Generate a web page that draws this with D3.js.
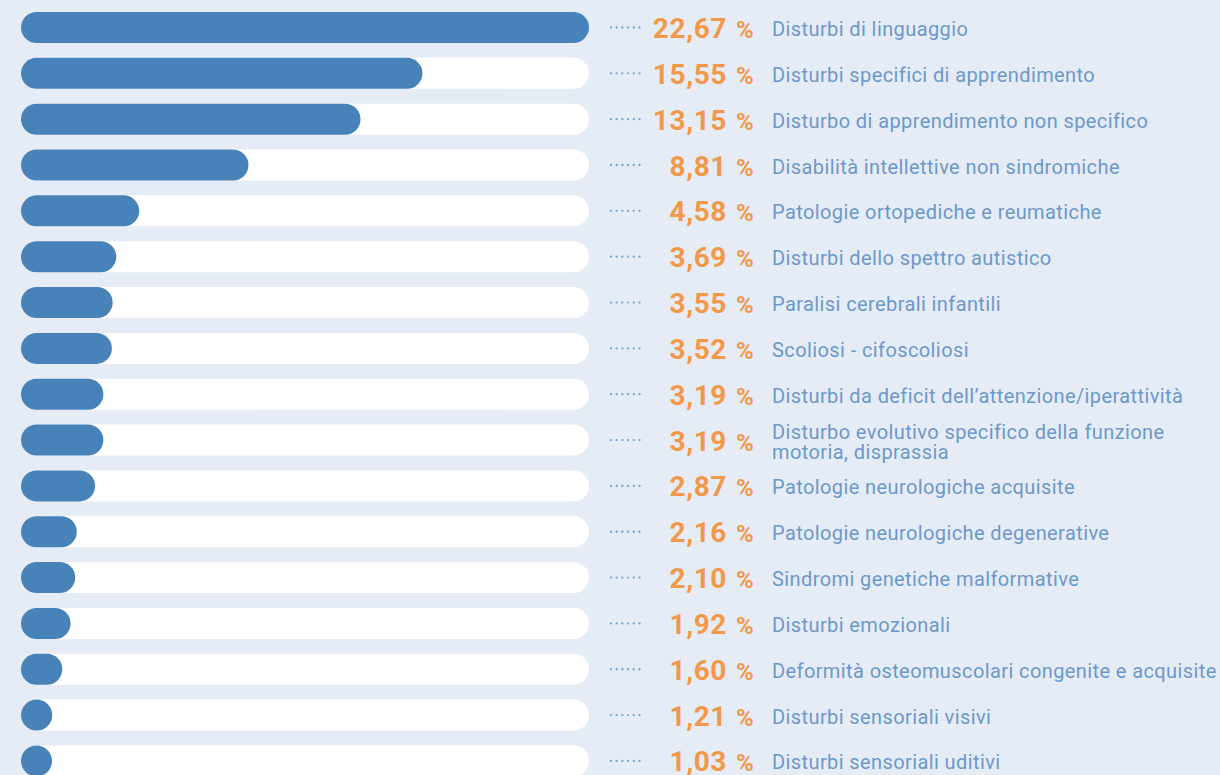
<!DOCTYPE html>
<html>
<head>
<meta charset="utf-8">
<script src="https://cdn.jsdelivr.net/npm/d3@7"></script>
<style>
  html, body { margin: 0; padding: 0; background: #e6ecf6; }
  svg { display: block; }
</style>
</head>
<body>
<svg id="chart" width="1220" height="775"></svg>
<script>
const categories = [
  "Disturbi di linguaggio",
  "Disturbi specifici di apprendimento",
  "Disturbo di apprendimento non specifico",
  "Disabilità intellettive non sindromiche",
  "Patologie ortopediche e reumatiche",
  "Disturbi dello spettro autistico",
  "Paralisi cerebrali infantili",
  "Scoliosi - cifoscoliosi",
  "Disturbi da deficit dell’attenzione/iperattività",
  "Disturbo evolutivo specifico della funzione\nmotoria, disprassia",
  "Patologie neurologiche acquisite",
  "Patologie neurologiche degenerative",
  "Sindromi genetiche malformative",
  "Disturbi emozionali",
  "Deformità osteomuscolari congenite e acquisite",
  "Disturbi sensoriali visivi",
  "Disturbi sensoriali uditivi"
];
const values = [22.67, 15.55, 13.15, 8.81, 4.58, 3.69, 3.55, 3.52, 3.19, 3.19, 2.87, 2.16, 2.10, 1.92, 1.60, 1.21, 1.03];
const scaleMax = 22; // full track length corresponds to 22 %

const itLocale = d3.formatLocale({decimal: ",", thousands: ".", grouping: [3], currency: ["", " €"]});
const fmt = itLocale.format(".2f");

const svg = d3.select("#chart");
const W = 1220, H = 775;
svg.append("rect").attr("width", W).attr("height", H).attr("fill", "#e6ecf6");

const barLeft = 21, barWidth = 568;
const step = 45.84, bh = 31, top0 = 12;
const n = categories.length;

const x = d3.scaleLinear().domain([0, scaleMax]).range([0, barWidth]).clamp(true);
const y = d3.scaleBand()
  .domain(categories)
  .range([top0, top0 + (n - 1) * step + bh])
  .paddingInner(1 - bh / step)
  .paddingOuter(0);

const rows = svg.selectAll("g.row")
  .data(categories.map((c, i) => ({cat: c, v: values[i]})))
  .join("g")
  .attr("class", "row")
  .attr("transform", d => `translate(0,${y(d.cat)})`);

const r = y.bandwidth() / 2;

// track
rows.append("rect")
  .attr("x", barLeft)
  .attr("y", 0)
  .attr("width", barWidth)
  .attr("height", y.bandwidth())
  .attr("rx", r).attr("ry", r)
  .attr("fill", "#ffffff");

// bar
rows.append("rect")
  .attr("x", barLeft)
  .attr("y", 0)
  .attr("width", d => Math.max(x(d.v), y.bandwidth()))
  .attr("height", y.bandwidth())
  .attr("rx", r).attr("ry", r)
  .attr("fill", "#4783b9");

// dotted leader
rows.append("line")
  .attr("x1", 611).attr("x2", 639.5)
  .attr("y1", r).attr("y2", r)
  .attr("stroke", "#6fa5d6")
  .attr("stroke-width", 2.3)
  .attr("stroke-linecap", "round")
  .attr("stroke-dasharray", "0 5.7");

// value
rows.append("text")
  .attr("x", 727)
  .attr("y", r + 10.5)
  .attr("text-anchor", "end")
  .attr("font-family", "Roboto, sans-serif")
  .attr("font-weight", 700)
  .attr("font-size", 28)
  .attr("letter-spacing", 0.6)
  .attr("fill", "#f2984a")
  .text(d => fmt(d.v));

rows.append("text")
  .attr("x", 736)
  .attr("y", r + 10.5)
  .attr("font-family", "Roboto, sans-serif")
  .attr("font-weight", 700)
  .attr("font-size", 24)
  .attr("fill", "#f2984a")
  .text("%");

// label
rows.each(function(d) {
  const lines = d.cat.split("\n");
  const t = d3.select(this).append("text")
    .attr("font-family", "Roboto, sans-serif")
    .attr("font-size", 20)
    .attr("letter-spacing", 0.4)
    .attr("fill", "#6b98cb");
  const lh = 20;
  const startY = r + 8.5 - (lines.length - 1) * lh / 2;
  lines.forEach((ln, k) => {
    t.append("tspan").attr("x", 772).attr("y", startY + k * lh).text(ln);
  });
});
</script>
</body>
</html>
